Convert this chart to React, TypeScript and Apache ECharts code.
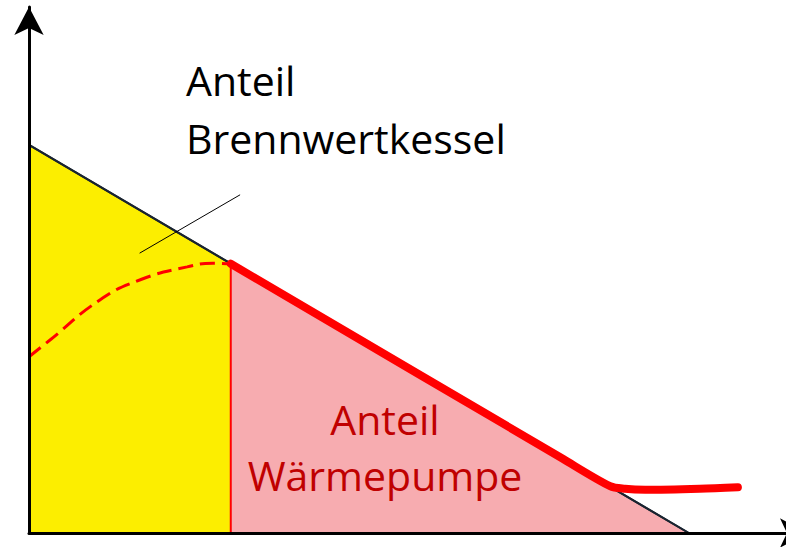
import React, { useEffect, useRef } from "react";
import * as echarts from "echarts";

// Boundary line (total heat demand) from y-axis to x-axis
const demandLine: [number, number][] = [[0, 73.8], [84.7, 0]];
const splitX = 25.9;
const splitY = 51.2;
// Yellow part (Brennwertkessel)
const boilerArea: [number, number][] = [[0, 73.8], [splitX, splitY]];
// Pink part (Wärmepumpe)
const heatPumpArea: [number, number][] = [[splitX, splitY], [84.7, 0]];
// Vertical separator
const separator: [number, number][] = [[splitX, 0], [splitX, splitY]];
// Thick red heat pump capacity curve
const heatPumpCurve: [number, number][] = [
  [25.9, 51.2], [68.2, 14.4], [74.6, 8.9], [76.5, 8.4], [79.1, 8.2], [86.1, 8.4], [91.0, 8.7],
];
// Dashed red capacity curve below bivalence point
const dashedCurve: [number, number][] = [
  [0, 33.5], [2.7, 36.7], [9.1, 44.3], [14.2, 48.1], [20.3, 50.6], [23.6, 51.3], [25.9, 51.1],
];
// Leader line for label
const leader: [number, number][] = [[14.2, 53.2], [27.1, 64.3]];

const labelBoiler = ["Anteil", "Brennwertkessel"];
const labelHeatPump = ["Anteil", "Wärmepumpe"];

export default function App() {
  const ref = useRef<HTMLDivElement>(null);
  useEffect(() => {
    if (!ref.current) return;
    const chart = echarts.init(ref.current, null, { renderer: "svg" });
    const font = "'Open Sans', sans-serif";
    chart.setOption({
      animation: false,
      backgroundColor: "#ffffff",
      grid: { left: 29, right: 0, top: 7, bottom: 14, containLabel: false },
      xAxis: {
        type: "value",
        min: 0,
        max: 100,
        z: 10,
        axisLine: {
          show: true,
          symbol: ["none", "arrow"],
          symbolSize: [22, 28],
          lineStyle: { color: "#000", width: 3 },
        },
        axisTick: { show: false },
        axisLabel: { show: false },
        splitLine: { show: false },
      },
      yAxis: {
        type: "value",
        min: 0,
        max: 100,
        z: 10,
        axisLine: {
          show: true,
          symbol: ["none", "arrow"],
          symbolSize: [22, 28],
          lineStyle: { color: "#000", width: 3 },
        },
        axisTick: { show: false },
        axisLabel: { show: false },
        splitLine: { show: false },
      },
      series: [
        {
          type: "line",
          data: boilerArea,
          symbol: "none",
          silent: true,
          lineStyle: { color: "#1a2430", width: 2 },
          areaStyle: { color: "#FCEE00", opacity: 1 },
          z: 2,
        },
        {
          type: "line",
          data: heatPumpArea,
          symbol: "none",
          silent: true,
          lineStyle: { color: "#1a2430", width: 2 },
          areaStyle: { color: "#F7ACB0", opacity: 1 },
          z: 2,
        },
        {
          type: "line",
          data: demandLine,
          symbol: "none",
          silent: true,
          lineStyle: { color: "#1a2430", width: 2 },
          z: 3,
        },
        {
          type: "line",
          data: separator,
          symbol: "none",
          silent: true,
          lineStyle: { color: "#FF0000", width: 2 },
          z: 4,
        },
        {
          type: "line",
          data: dashedCurve,
          symbol: "none",
          smooth: true,
          silent: true,
          lineStyle: { color: "#FF0000", width: 3, type: [15, 7] },
          z: 5,
        },
        {
          type: "line",
          data: heatPumpCurve,
          symbol: "none",
          smooth: 0.3,
          silent: true,
          lineStyle: { color: "#FF0000", width: 8, cap: "round", join: "round" },
          z: 6,
        },
        {
          type: "line",
          data: leader,
          symbol: "none",
          silent: true,
          lineStyle: { color: "#000", width: 1 },
          z: 7,
        },
      ],
      graphic: [
        {
          type: "text",
          x: 186,
          y: 80,
          z: 20,
          style: {
            text: labelBoiler[0],
            font: `41px ${font}`,
            fill: "#000",
            align: "left",
            verticalAlign: "middle",
          },
        },
        {
          type: "text",
          x: 186,
          y: 138,
          z: 20,
          style: {
            text: labelBoiler[1],
            font: `41px ${font}`,
            fill: "#000",
            align: "left",
            verticalAlign: "middle",
          },
        },
        {
          type: "text",
          x: 385,
          y: 419,
          z: 20,
          style: {
            text: labelHeatPump[0],
            font: `41px ${font}`,
            fill: "#C00000",
            align: "center",
            verticalAlign: "middle",
          },
        },
        {
          type: "text",
          x: 385,
          y: 475,
          z: 20,
          style: {
            text: labelHeatPump[1],
            font: `41px ${font}`,
            fill: "#C00000",
            align: "center",
            verticalAlign: "middle",
          },
        },
      ],
    });
    return () => chart.dispose();
  }, []);
  return (
    <div
      style={{
        position: "fixed",
        left: 0,
        top: 0,
        width: 786,
        height: 547,
        overflow: "hidden",
        background: "#fff",
      }}
    >
      <div ref={ref} style={{ width: 808, height: 547 }} />
    </div>
  );
}
